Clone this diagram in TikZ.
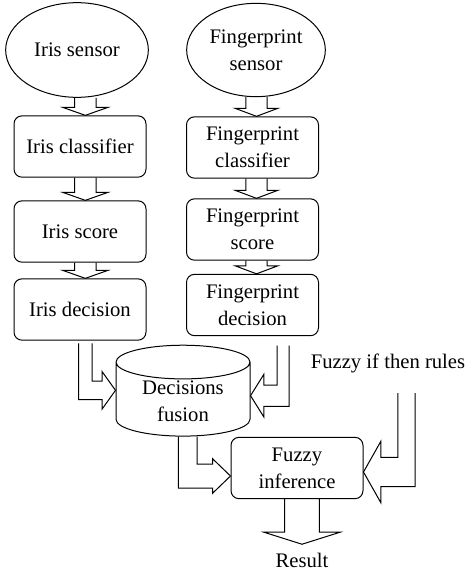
\documentclass[tikz,border=0pt]{standalone}
\usepackage{fontspec}
\setmainfont{Liberation Serif}
\usetikzlibrary{shapes.geometric,calc}

\newcommand{\vblock}[5]{% hollow arrow down: from, to, shaft, head, length
  \draw let \p1=(#1),\p2=(#2) in
  (\x2-#3,\y1) -- (\x2-#3,\y2+#5) -- (\x2-#4,\y2+#5) -- (\x2,\y2)
  -- (\x2+#4,\y2+#5) -- (\x2+#3,\y2+#5) -- (\x2+#3,\y1);}
\newcommand{\lblock}[7]{% hollow bent arrow, #7 = 1 right, -1 left
  \draw let \p1=(#1),\p2=(#2) in
  ({\x1-(#7)*#3},\y1) -- ({\x1-(#7)*#3},{\y2-#4}) -- ({\x2-(#7)*#6},{\y2-#4})
  -- ({\x2-(#7)*#6},{\y2-#5}) -- (\x2,\y2) -- ({\x2-(#7)*#6},{\y2+#5})
  -- ({\x2-(#7)*#6},{\y2+#4}) -- ({\x1+(#7)*#3},{\y2+#4}) -- ({\x1+(#7)*#3},\y1);}

\begin{document}
\begin{tikzpicture}[x=0.75pt,y=-0.75pt,line width=0.75pt,font=\fontsize{15.5}{20}\selectfont,
  box/.style={draw,rounded corners=6pt,minimum width=99pt,minimum height=46pt,align=center,inner sep=1pt},
  sensor/.style={draw,ellipse,align=center,inner sep=0pt}]
\useasboundingbox (0,0) rectangle (469,576);
% sensors
\node[sensor,minimum width=107pt,minimum height=71pt] (I-0) at (77,50) {Iris sensor};
\node[sensor,minimum width=104pt,minimum height=70pt] (F-0) at (256,50) {Fingerprint\\sensor};
% iris column
\foreach \X/\Z [count=\Y,remember=\Y as \LastY (initially 0)] in
{Iris classifier/146.5,Iris score/231.5,Iris decision/309.5}
  {\node[box] (I-\Y) at (80,\Z) {\X};
  \vblock{I-\LastY.south}{[xshift=4pt]I-\Y.north}{8pt}{17pt}{6pt}}
% fingerprint column
\foreach \X/\Z [count=\Y,remember=\Y as \LastY (initially 0)] in
{Fingerprint\\classifier/147.5,Fingerprint\\score/229.5,Fingerprint\\decision/305}
  {\node[box] (F-\Y) at (252.5,\Z) {\X};
  \vblock{F-\LastY.south}{[xshift=3pt]F-\Y.north}{8pt}{16pt}{6pt}}
% fusion and inference
\node[draw,cylinder,shape border rotate=90,aspect=0.4,minimum width=100.5pt,minimum height=64.5pt,
  align=center,inner sep=1pt] (fusion) at (183,401) {Decisions\\fusion};
\node[box] (fuzzy) at (297,468) {Fuzzy\\inference};
\node (rules) at (388,363) {Fuzzy if then rules};
\node[inner sep=6pt] (result) at (302,560) {Result};
\coordinate (R) at (406.5,393);

\lblock{[xshift=4pt,yshift=-2pt]I-3.south}{[yshift=8pt]fusion.west}{5pt}{7pt}{14pt}{10pt}{1}
\lblock{[xshift=23pt,yshift=-7pt]F-3.south}{[yshift=4pt]fusion.east}{4.5pt}{8pt}{16pt}{10pt}{-1}
\lblock{[xshift=3.5pt]fusion.south}{[yshift=-6pt]fuzzy.west}{7pt}{9pt}{13pt}{13.5pt}{1}
\lblock{R}{[yshift=-3pt]fuzzy.east}{6.5pt}{11pt}{23pt}{13pt}{-1}
\vblock{fuzzy.south}{result.north}{13pt}{28.5pt}{9pt}
\end{tikzpicture}
\end{document}
